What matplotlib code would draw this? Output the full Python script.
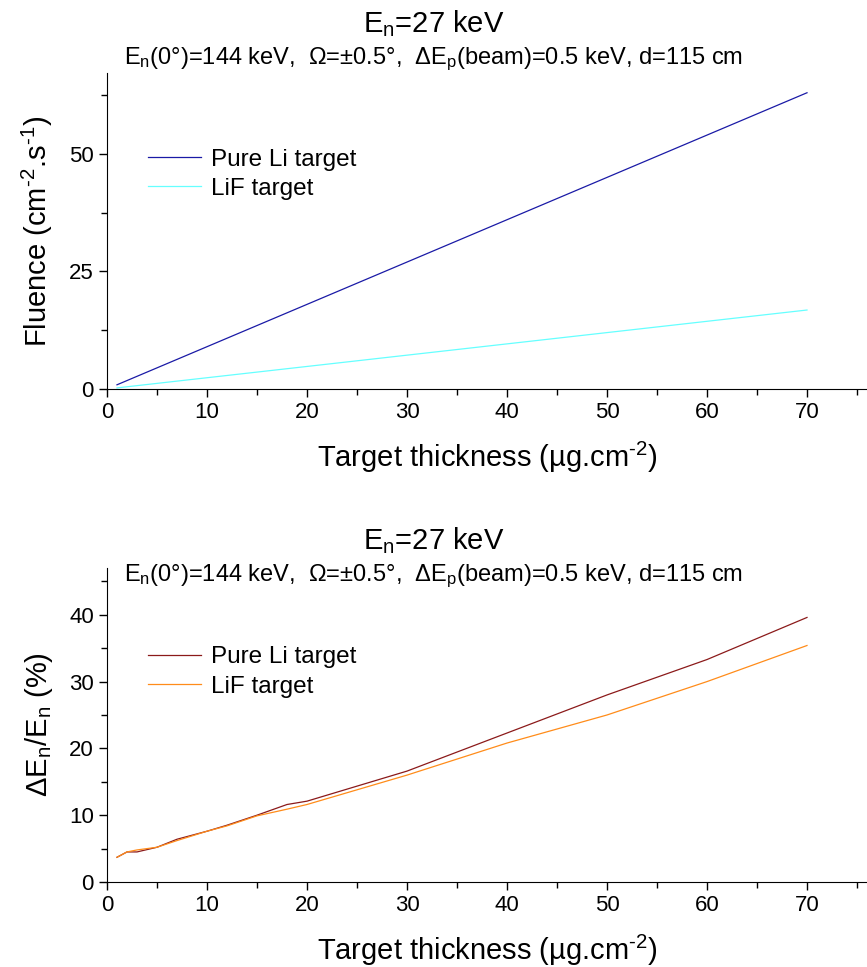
import matplotlib
matplotlib.use("Agg")
import matplotlib.pyplot as plt
from matplotlib.ticker import MultipleLocator

plt.rcParams['font.family'] = ['Liberation Sans', 'DejaVu Sans']
plt.rcParams['mathtext.fontset'] = 'custom'
plt.rcParams['mathtext.rm'] = 'Liberation Sans'
plt.rcParams['mathtext.it'] = 'Liberation Sans:italic'
plt.rcParams['axes.unicode_minus'] = False

# data
thickness = [1, 2, 3, 5, 7, 10, 12, 15, 18, 20, 30, 40, 50, 60, 70]
fluence_li = [0.9, 1.8, 2.7, 4.5, 6.3, 9.0, 10.8, 13.5, 16.2, 18.0, 27.0, 36.0, 45.0, 54.0, 63.0]
fluence_lif = [0.24, 0.48, 0.72, 1.2, 1.68, 2.4, 2.88, 3.6, 4.32, 4.8, 7.2, 9.6, 12.0, 14.4, 16.8]
spread_li = [3.7, 4.5, 4.5, 5.2, 6.4, 7.6, 8.5, 10.0, 11.6, 12.1, 16.6, 22.3, 28.0, 33.3, 39.6]
spread_lif = [3.7, 4.5, 4.8, 5.2, 6.2, 7.6, 8.4, 9.9, 10.9, 11.6, 16.0, 20.8, 25.0, 30.0, 35.4]

title = "E$_\\mathrm{n}$=27 keV"
subtitle = "E$_\\mathrm{n}$(0°)=144 keV,  Ω=±0.5°,  ΔE$_\\mathrm{p}$(beam)=0.5 keV, d=115 cm"
xlabel = "Target thickness (µg.cm$^\\mathrm{\u20102}$)"

fig = plt.figure(figsize=(8.67, 9.67), dpi=100)
ax1 = fig.add_axes([0.1234, 0.5977, 0.8766, 0.3268])
ax2 = fig.add_axes([0.1234, 0.0879, 0.8766, 0.3247])


def style(ax, ymax, ymaj, ymin, legend_y):
    ax.set_xlim(0, 76)
    ax.set_ylim(0, ymax)
    ax.spines['top'].set_visible(False)
    ax.spines['right'].set_visible(False)
    ax.xaxis.set_major_locator(MultipleLocator(10))
    ax.xaxis.set_minor_locator(MultipleLocator(5))
    ax.yaxis.set_major_locator(MultipleLocator(ymaj))
    ax.yaxis.set_minor_locator(MultipleLocator(ymin))
    ax.tick_params(which='major', length=6, width=1, labelsize=16, direction='out')
    ax.tick_params(which='minor', length=4, width=1, direction='out')
    ax.set_xlabel(xlabel, fontsize=21, labelpad=12)
    ax.legend(loc='upper left', bbox_to_anchor=(0.025, legend_y), frameon=False,
              prop={'size': 17.5}, handlelength=2.2,
              handletextpad=0.4, labelspacing=0.3)


ax1.plot(thickness, fluence_li, color='#1a1aa6', lw=0.9, label='Pure Li target')
ax1.plot(thickness, fluence_lif, color='#66ffff', lw=0.9, label='LiF target')
style(ax1, 67.2, 25, 12.5, 0.83)
ax1.set_ylabel("Fluence (cm$^\\mathrm{\u20102}$.s$^\\mathrm{\u20101}$)", fontsize=21, labelpad=10)

ax2.plot(thickness, spread_li, color='#8b1a1a', lw=0.9, label='Pure Li target')
ax2.plot(thickness, spread_lif, color='#ff8c1a', lw=0.9, label='LiF target')
style(ax2, 47, 10, 5, 0.82)
ax2.set_ylabel("ΔE$_\\mathrm{n}$/E$_\\mathrm{n}$ (%)", fontsize=21, labelpad=10)

for y0 in [0, 0.535]:
    fig.text(0.5, 0.976 - y0, title, fontsize=21, ha='center', va='center')
    fig.text(0.5, 0.939 - y0, subtitle, fontsize=17, ha='center', va='center')

fig.savefig("out.png", dpi=100)
